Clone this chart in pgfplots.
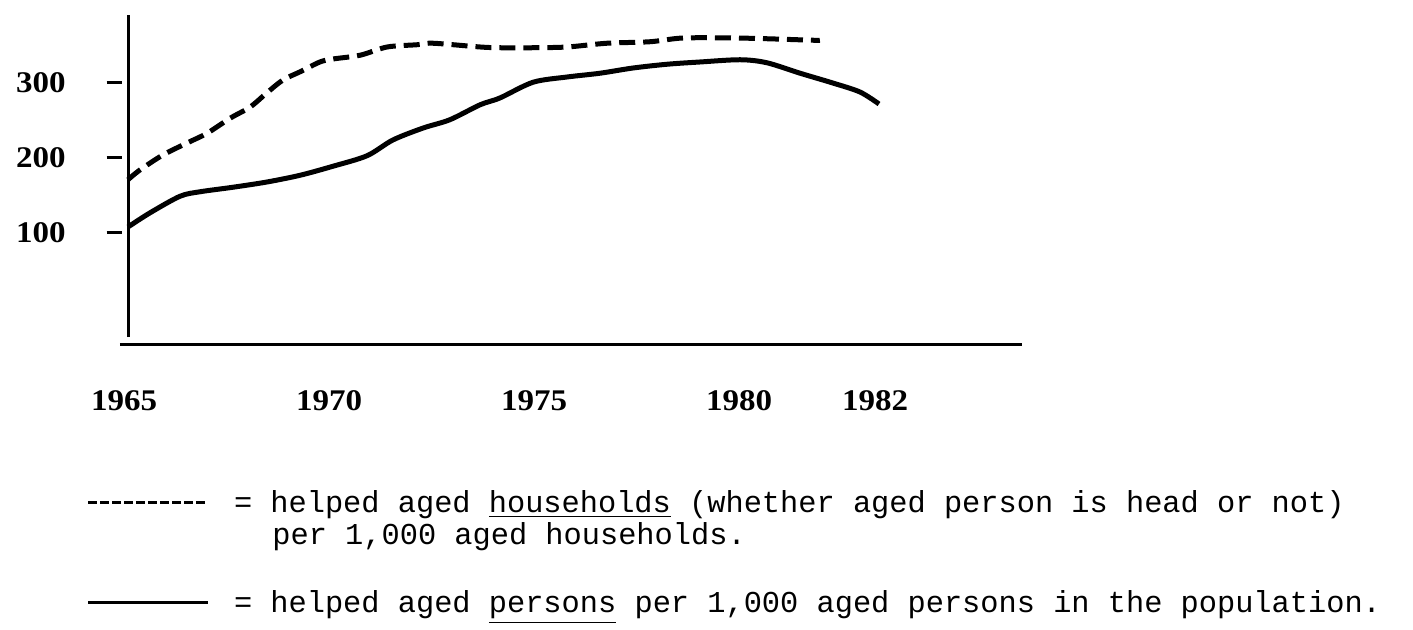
\documentclass[border=0pt]{standalone}
\usepackage{fontspec}
\setmainfont{Liberation Serif}
\setmonofont{Liberation Mono}
\newfontfamily\numfont[FakeStretch=1.1]{Liberation Serif}
\usepackage{pgfplots}
\usepackage{pgfplotstable}
\pgfplotsset{compat=1.18}

% helped aged persons per 1,000 aged persons
\pgfplotstableread{
x y
1965.00 108
1965.54 127
1966.27 149
1966.76 155
1967.56 161
1968.39 168
1969.20 177
1970.00 189
1970.83 203
1971.46 224
1972.20 240
1972.85 251
1973.59 271
1974.07 280
1974.88 301
1975.71 308
1976.51 313
1977.32 320
1978.15 325
1978.95 328
1979.93 331
1980.35 327
1980.84 313
1981.32 300
1981.72 288
1982.00 272
}\solid

% helped aged households per 1,000 aged households
\pgfplotstableread{
x y
1965.00 171
1965.29 184
1965.85 204
1966.44 220
1966.93 233
1967.49 253
1967.98 268
1968.39 287
1968.78 304
1969.20 315
1969.68 328
1970.00 332
1970.66 337
1971.32 348
1972.05 351
1972.44 353
1973.59 348
1974.07 347
1974.88 347
1975.71 348
1976.68 353
1977.73 355
1978.54 360
1979.76 360
1980.35 359
1981.03 357
1981.13 357
}\dashed

\newcommand\dsh{\rule[4.3pt]{4.3pt}{1.5pt}\hspace{1.7pt}}

\begin{document}
\begin{tikzpicture}
\useasboundingbox (0,0) rectangle (706.5pt,315pt);
\begin{axis}[
  at={(64pt,142.5pt)}, anchor=south west,
  width=447pt, height=165pt, scale only axis,
  x coord trafo/.code={\pgfmathparse{#1>1980 ? 1980+(#1-1980)*1.6585 : #1}},
  xmin=1965, xmax=1984.103,
  ymin=-49.33, ymax=390.67,
  axis x line=bottom, axis y line=left,
  axis line style={draw=none},
  major tick length=0pt,
  tick style={draw=none},
  xtick={1965,1970,1975,1980,1982},
  xticklabels={1965,1970,1975,1980,1982},
  ytick={100,200,300},
  yticklabels={{100\hspace{20.5pt}\rule[4.3pt]{7.5pt}{1.5pt}},
               {200\hspace{20.5pt}\rule[4.3pt]{7.5pt}{1.5pt}},
               {300\hspace{20.5pt}\rule[4.3pt]{7.5pt}{1.5pt}}},
  xticklabel style={anchor=north, inner sep=0pt, yshift=-22.5pt, xshift=-2pt,
    font=\numfont\bfseries\fontsize{15}{18}\selectfont},
  yticklabel style={anchor=east, inner sep=0pt, xshift=-3pt,
    font=\numfont\bfseries\fontsize{15}{18}\selectfont},
  clip=false,
]
\draw[line width=1.5pt] (rel axis cs:0,0.024) -- (rel axis cs:0,1);
\draw[line width=1.5pt] (rel axis cs:-0.009,0) -- (rel axis cs:1,0);
\addplot[line width=2.5pt, smooth, tension=0.5] table {\solid};
\addplot[line width=2.5pt, dash pattern=on 8pt off 4pt, smooth, tension=0.5] table {\dashed};
\end{axis}
\begin{scope}[every node/.style={anchor=base west, inner sep=0pt,
    font=\ttfamily\fontsize{15.17}{18}\selectfont}]
\node at (44pt,58.5pt) {\hbox to 63.7pt{\dsh\dsh\dsh\dsh\dsh\dsh\dsh\dsh\dsh\dsh\hss} = helped aged \underline{households} (whether aged person is head or not)};
\node at (136pt,42.5pt) {per 1,000 aged households.};
\node at (44pt,8.5pt) {\hbox to 63.7pt{\rule[4.3pt]{60pt}{1.5pt}\hss} = helped aged \underline{persons} per 1,000 aged persons in the population.};
\end{scope}
\end{tikzpicture}
\end{document}
